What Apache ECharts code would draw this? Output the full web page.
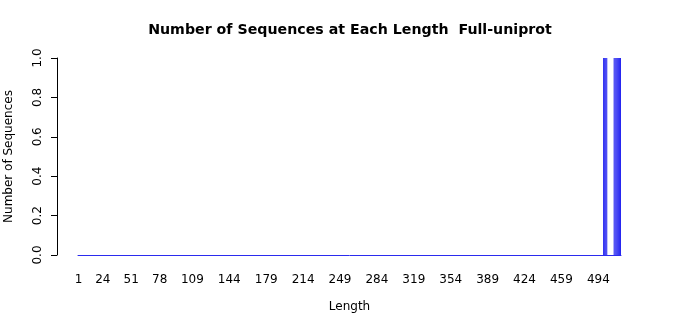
<!DOCTYPE html>
<html>
<head>
<meta charset="utf-8">
<script src="https://cdn.jsdelivr.net/npm/echarts@6/dist/echarts.min.js"></script>
<style>html,body{margin:0;padding:0;background:#fff}#c{width:700px;height:315px}</style>
</head>
<body>
<div id="c"></div>
<script>
// Sequence lengths shown on the x axis (first and last length in the histogram)
const firstLength = 1;
const lastLength = 515;
// Lengths at which one sequence was observed (count = 1); all other lengths have 0
const observedLengths = [499, 500, 501, 502, 509, 510, 511, 512, 513, 514, 515];
const observedCounts  = [1, 1, 1, 1, 1, 1, 1, 1, 1, 1, 1];
// Tick labels that are printed under the bars
const tickLabels = ['1','24','51','78','109','144','179','214','249','284','319','354','389','424','459','494'];
const yTicks = [0, 0.2, 0.4, 0.6, 0.8, 1.0];

const categories = [];
const counts = [];
for (let L = firstLength; L <= lastLength; L++) {
  categories.push(String(L));
  const k = observedLengths.indexOf(L);
  counts.push(k >= 0 ? observedCounts[k] : 0);
}

const chart = echarts.init(document.getElementById('c'), null, {renderer: 'canvas'});
chart.setOption({
  animation: false,
  title: {
    text: 'Number of Sequences at Each Length  Full-uniprot',
    left: 'center', top: 18,
    textStyle: {fontFamily: 'DejaVu Sans', fontWeight: 'bold', fontSize: 14.2, color: '#000'}
  },
  grid: {left: 78, right: 79, top: 58, bottom: 60, containLabel: false, outerBoundsMode: 'none'},
  xAxis: {
    type: 'category',
    data: categories,
    boundaryGap: true,
    name: 'Length',
    nameLocation: 'middle',
    nameGap: 46,
    nameTextStyle: {fontFamily: 'DejaVu Sans', fontSize: 12, color: '#000'},
    axisLine: {show: true, lineStyle: {color: '#2b2bee', width: 1}},
    axisTick: {show: false},
    splitLine: {show: false},
    axisLabel: {
      interval: (i, v) => tickLabels.indexOf(v) >= 0,
      hideOverlap: false,
      margin: 19,
      fontFamily: 'DejaVu Sans', fontSize: 12, color: '#000'
    }
  },
  yAxis: {
    type: 'value',
    min: yTicks[0], max: yTicks[yTicks.length - 1], interval: 0.2,
    offset: 21,
    name: 'Number of Sequences',
    nameLocation: 'middle',
    nameRotate: 90,
    nameGap: 42,
    nameTextStyle: {fontFamily: 'DejaVu Sans', fontSize: 12, color: '#000'},
    axisLine: {show: true, lineStyle: {color: '#000', width: 1}},
    axisTick: {show: true, length: 6, lineStyle: {color: '#000'}},
    splitLine: {show: false},
    axisLabel: {
      rotate: 90,
      margin: 13,
      formatter: v => v.toFixed(1),
      fontFamily: 'DejaVu Sans', fontSize: 12, color: '#000'
    }
  },
  series: [{
    type: 'bar',
    data: counts,
    barWidth: '85%',
    itemStyle: {color: '#2020f0'}
  }]
});
</script>
</body>
</html>
